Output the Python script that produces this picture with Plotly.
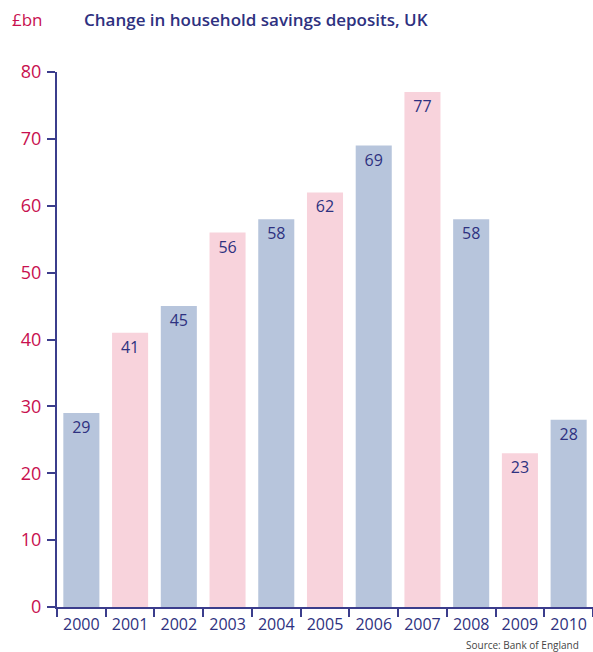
import plotly.graph_objects as go

years = ["2000", "2001", "2002", "2003", "2004", "2005", "2006", "2007", "2008", "2009", "2010"]
deposits = [29, 41, 45, 56, 58, 62, 69, 77, 58, 23, 28]
y_ticks = [0, 10, 20, 30, 40, 50, 60, 70, 80]

BLUE = "#b7c5dc"
PINK = "#f8d3dc"
NAVY = "#2e3180"
CRIMSON = "#c8104f"
AXIS = "#3b3d8c"
FONT = "Open Sans"

bar_colors = [BLUE if i % 2 == 0 else PINK for i in range(len(years))]

fig = go.Figure(
    go.Bar(
        x=years,
        y=deposits,
        marker=dict(color=bar_colors, line=dict(width=0)),
        text=[str(v) for v in deposits],
        textposition="inside",
        insidetextanchor="end",
        textangle=0,
        textfont=dict(family=FONT, size=16, color=NAVY),
        hoverinfo="skip",
    )
)

L, R, T, B = 57, 0, 72, 45
W, H = 593, 652
plot_w = W - L - R
plot_h = H - T - B


def header(text, px, py, size, color, weight="normal"):
    # place a text by its pixel position on the page
    return dict(
        text=text,
        x=(px - L) / plot_w,
        y=1 - (py - T) / plot_h,
        xref="paper", yref="paper",
        xanchor="left", yanchor="middle",
        showarrow=False,
        font=dict(family=FONT, size=size, color=color, weight=weight),
    )


fig.update_layout(
    width=W,
    height=H,
    margin=dict(l=L, r=R, t=T, b=B),
    paper_bgcolor="white",
    plot_bgcolor="white",
    bargap=0.26,
    showlegend=False,
    font=dict(family=FONT),
    annotations=[
        header("£bn", 10, 20, 17, CRIMSON),
        header("Change in household savings deposits, UK", 82, 20, 17, NAVY, 600),
        header("Source: Bank of England", 464, 645, 10, "#444444"),
    ],
)

fig.update_xaxes(
    type="category",
    range=[-0.5, 10.5],
    showline=True,
    linecolor=AXIS,
    linewidth=2,
    ticks="outside",
    tickson="boundaries",
    ticklen=8,
    tickwidth=2,
    tickcolor=AXIS,
    tickfont=dict(family=FONT, size=16, color=NAVY),
    showgrid=False,
    zeroline=False,
    ticklabelstandoff=2,
)

fig.update_yaxes(
    range=[0, 80],
    tickvals=y_ticks,
    showline=True,
    linecolor=AXIS,
    linewidth=2,
    ticks="outside",
    ticklen=8,
    tickwidth=2,
    tickcolor=AXIS,
    tickfont=dict(family=FONT, size=18, color=CRIMSON),
    showgrid=False,
    zeroline=False,
    ticklabelstandoff=2,
)

fig.write_html("out.html")
